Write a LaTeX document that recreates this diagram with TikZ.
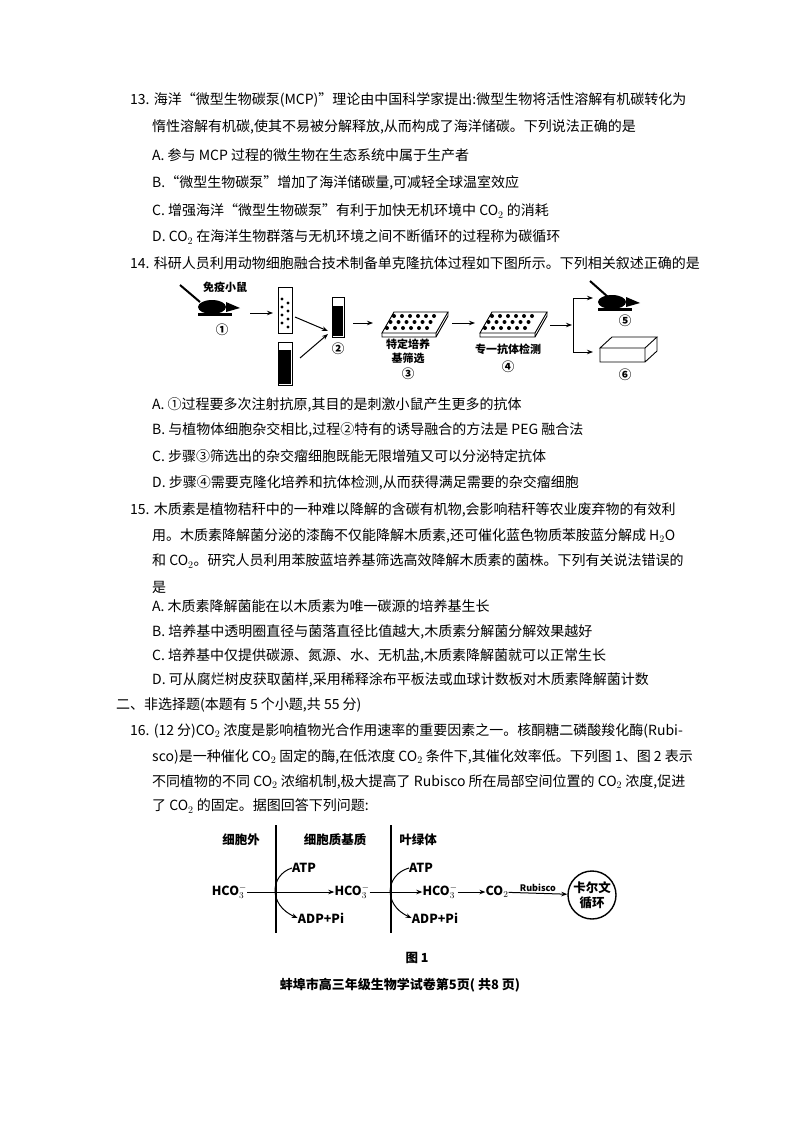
\documentclass[tikz,border=0pt]{standalone}
\usepackage{fontspec}
\setmainfont{Noto Sans CJK SC}
\usetikzlibrary{arrows.meta}
\tikzset{
 ln/.style={anchor=west,inner sep=0pt,font=\fontsize{14}{16}\selectfont},
 lb/.style={inner sep=0pt,font=\bfseries\fontsize{12.5}{14}\selectfont},
 fl/.style={inner sep=0pt,font=\bfseries\fontsize{11}{13}\selectfont},
 ar/.style={-{Stealth[length=6pt,width=4.5pt]},line width=1pt},
}
\begin{document}
\begin{tikzpicture}[x=1pt,y=-1pt]
\useasboundingbox (0,0) rectangle (800,1132);
\fill[white] (0,0) rectangle (800,1132);
% Q13
\node[ln] (l1) at (130,100) {13. 海洋“微型生物碳泵(MCP)”理论由中国科学家提出:微型生物将活性溶解有机碳转化为};
\node[ln] (l2) at (152,127) {惰性溶解有机碳,使其不易被分解释放,从而构成了海洋储碳。下列说法正确的是};
\node[ln] (l3) at (152,155) {A. 参与 MCP 过程的微生物在生态系统中属于生产者};
\node[ln] (l4) at (152,183) {B.“微型生物碳泵”增加了海洋储碳量,可减轻全球温室效应};
\node[ln] (l5) at (152,211) {C. 增强海洋“微型生物碳泵”有利于加快无机环境中 CO$_2$ 的消耗};
\node[ln] (l6) at (152,237) {D. CO$_2$ 在海洋生物群落与无机环境之间不断循环的过程称为碳循环};
\node[ln] (l7) at (130,263) {14. 科研人员利用动物细胞融合技术制备单克隆抗体过程如下图所示。下列相关叙述正确的是};
% Q14 diagram
\node[fl] (mt) at (225,287) {免疫小鼠};
\fill (212,307) ellipse (14 and 7);
\fill (226,302) -- (240,308) -- (226,312) -- cycle;
\fill (198,313) rectangle (232,316);
\draw[line width=2pt] (180,285) -- (200,302);
\node[lb] (c1) at (222,330) {①};
\coordinate (m1) at (250,313);
\coordinate (t1a) at (273,313);
\draw[ar] (m1) -- (t1a);
\draw[line width=0.9pt] (278,287) rectangle (292,333);
\foreach \y in {299,307,315,323}{\fill (282,\y) circle (1.6); \fill (288,\y+4) circle (1.6);}
\draw[line width=0.9pt] (278,342) rectangle (292,385);
\fill (279,350) rectangle (291,384);
\draw[line width=0.9pt] (332,297) rectangle (344,337);
\fill (333,306) rectangle (343,336);
\node[lb] (c2) at (338,349) {②};
\draw[ar] (295,317) -- (328,331);
\draw[ar] (300,358) -- (328,334);
\draw[ar] (353,323) -- (373,323);
\draw[line width=0.9pt] (382,333) -- (394,312) -- (448,312) -- (436,333) -- cycle;
\draw[line width=0.9pt] (382,333) -- (382,337) -- (436,337) -- (436,333) (436,337) -- (448,316) -- (448,312);
\foreach \i in {0,...,5}{\foreach \j in {0,1,2}{\fill (394+\i*8-\j*3.5,316+\j*6) circle (2);}}
\node[fl] (p3a) at (408,344) {特定培养};
\node[fl] (p3b) at (408,358) {基筛选};
\node[lb] (c3) at (408,374) {③};
\draw[ar] (452,323) -- (475,323);
\draw[line width=0.9pt] (480,333) -- (492,312) -- (547,312) -- (535,333) -- cycle;
\draw[line width=0.9pt] (480,333) -- (480,337) -- (535,337) -- (535,333) (535,337) -- (547,316) -- (547,312);
\foreach \i in {0,...,5}{\foreach \j in {0,1,2}{\fill (492+\i*8-\j*3.5,316+\j*6) circle (2);}}
\node[fl] (p4) at (508,349) {专一抗体检测};
\node[lb] (c4) at (508,367) {④};
\draw[ar] (550,325) -- (572,325);
\draw[line width=1pt] (573,298) -- (573,352);
\draw[ar] (573,298) -- (593,298);
\draw[ar] (573,352) -- (593,352);
\fill (612,302) ellipse (14 and 7);
\fill (626,297) -- (640,303) -- (626,307) -- cycle;
\fill (598,308) rectangle (632,311);
\draw[line width=2pt] (590,281) -- (608,297);
\node[lb] (c5) at (625,321) {⑤};
\draw[line width=0.9pt] (600,348) -- (612,337) -- (657,337) -- (645,348) -- cycle;
\draw[line width=0.9pt] (600,348) -- (600,362) -- (645,362) -- (645,348) (645,362) -- (657,351) -- (657,337);
\node[lb] (c6) at (625,375) {⑥};
% Q14 options
\node[ln] (l8) at (152,405) {A. ①过程要多次注射抗原,其目的是刺激小鼠产生更多的抗体};
\node[ln] (l9) at (152,430) {B. 与植物体细胞杂交相比,过程②特有的诱导融合的方法是 PEG 融合法};
\node[ln] (l10) at (152,456) {C. 步骤③筛选出的杂交瘤细胞既能无限增殖又可以分泌特定抗体};
\node[ln] (l11) at (152,483) {D. 步骤④需要克隆化培养和抗体检测,从而获得满足需要的杂交瘤细胞};
% Q15
\node[ln] (l12) at (130,510) {15. 木质素是植物秸秆中的一种难以降解的含碳有机物,会影响秸秆等农业废弃物的有效利};
\node[ln] (l13) at (152,536) {用。木质素降解菌分泌的漆酶不仅能降解木质素,还可催化蓝色物质苯胺蓝分解成 H$_2$O};
\node[ln] (l14) at (152,561) {和 CO$_2$。研究人员利用苯胺蓝培养基筛选高效降解木质素的菌株。下列有关说法错误的};
\node[ln] (l15) at (152,587) {是};
\node[ln] (l16) at (152,606) {A. 木质素降解菌能在以木质素为唯一碳源的培养基生长};
\node[ln] (l17) at (152,632) {B. 培养基中透明圈直径与菌落直径比值越大,木质素分解菌分解效果越好};
\node[ln] (l18) at (152,656) {C. 培养基中仅提供碳源、氮源、水、无机盐,木质素降解菌就可以正常生长};
\node[ln] (l19) at (152,680) {D. 可从腐烂树皮获取菌样,采用稀释涂布平板法或血球计数板对木质素降解菌计数};
\node[ln] (l20) at (116,705) {二、非选择题(本题有 5 个小题,共 55 分)};
\node[ln] (l21) at (130,731) {16. (12 分)CO$_2$ 浓度是影响植物光合作用速率的重要因素之一。核酮糖二磷酸羧化酶(Rubi-};
\node[ln] (l22) at (152,757) {sco)是一种催化 CO$_2$ 固定的酶,在低浓度 CO$_2$ 条件下,其催化效率低。下列图 1、图 2 表示};
\node[ln] (l23) at (152,782) {不同植物的不同 CO$_2$ 浓缩机制,极大提高了 Rubisco 所在局部空间位置的 CO$_2$ 浓度,促进};
\node[ln] (l24) at (152,806) {了 CO$_2$ 的固定。据图回答下列问题:};
% Figure 1
\node[lb] (r1) at (241,840) {细胞外};
\node[lb] (r2) at (335,840) {细胞质基质};
\node[lb] (r3) at (418,840) {叶绿体};
\draw[line width=1.2pt] (276,825) -- (276,933);
\draw[line width=2.2pt] (391,825) -- (391,933);
\node[lb,anchor=east] (h1) at (247,892) {HCO$_3^-$};
\node[lb] (h2) at (352,892) {HCO$_3^-$};
\node[lb] (h3) at (440,892) {HCO$_3^-$};
\node[lb] (co) at (497,892) {CO$_2$};
\node[draw,circle,line width=1.4pt,minimum size=48pt,inner sep=0pt,align=center,font=\bfseries\fontsize{12.5}{15}\selectfont] (cv) at (592,895) {卡尔文\\循环};
\draw[ar] (h1) -- (h2);
\draw[ar] (h2) -- (h3);
\draw[ar] (h3) -- (co);
\draw[ar] (co) -- node[above=1pt,fl,font=\bfseries\fontsize{9}{10}\selectfont] {Rubisco} (cv);
\node[lb] (a1) at (304,868) {ATP};
\node[lb] (d1) at (321,918) {ADP+Pi};
\node[lb] (a2) at (421,868) {ATP};
\node[lb] (d2) at (435,918) {ADP+Pi};
\draw[ar] (a1.west) .. controls (270,875) and (268,905) .. (d1.west);
\draw[ar] (a2.west) .. controls (385,875) and (383,905) .. (d2.west);
\node[lb] (fig) at (417,958) {图 1};
\node[lb,font=\bfseries\fontsize{13}{15}\selectfont] (ft) at (400,985) {蚌埠市高三年级生物学试卷第5页( 共8 页)};
\end{tikzpicture}
\end{document}
